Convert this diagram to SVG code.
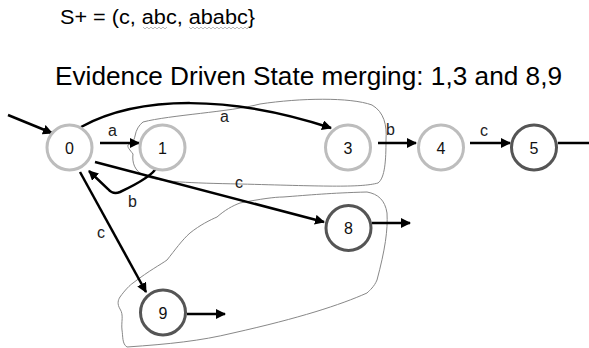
<svg xmlns="http://www.w3.org/2000/svg" width="589" height="348" viewBox="0 0 589 348">
<defs>
<style>
.t{font-family:"Liberation Sans",Arial,sans-serif;fill:#000}
.lbl{font-family:"Liberation Sans",Arial,sans-serif;font-size:16px;fill:#222}
.nl{font-family:"Liberation Sans",Arial,sans-serif;font-size:16px;fill:#111;text-anchor:middle}
.light{fill:#fff;stroke:#bdbdbd;stroke-width:3}
.dark{fill:#fff;stroke:#555;stroke-width:3}
.e{fill:none;stroke:#000;stroke-width:2.5}
.blob{fill:none;stroke:#888;stroke-width:1}
.wave{fill:none;stroke:#aaa;stroke-width:0.8}
</style>
<marker id="ah" viewBox="0 0 10 10" refX="9" refY="5" markerWidth="4" markerHeight="4" orient="auto" markerUnits="strokeWidth">
<path d="M0,0 L10,5 L0,10 z" fill="#000"/>
</marker>
</defs>
<rect width="589" height="348" fill="#fff"/>
<text class="t" x="60" y="23.5" font-size="20" textLength="195" lengthAdjust="spacingAndGlyphs">S+ = (c, abc, ababc}</text>
<path class="wave" d="M143,27 l2,2 l2,-2 l2,2 l2,-2 l2,2 l2,-2 l2,2 l2,-2 l2,2 l2,-2 l2,2 l2,-2"/>
<path class="wave" d="M189,27 l2,2 l2,-2 l2,2 l2,-2 l2,2 l2,-2 l2,2 l2,-2 l2,2 l2,-2 l2,2 l2,-2 l2,2 l2,-2 l2,2 l2,-2 l2,2 l2,-2 l2,2 l2,-2 l2,2 l2,-2 l2,2 l2,-2 l2,2 l2,-2 l2,2 l2,-2 l2,2 l2,-2"/>
<text class="t" x="55" y="85" font-size="26" textLength="507" lengthAdjust="spacingAndGlyphs">Evidence Driven State merging: 1,3 and 8,9</text>

<g id="blobs">
<path class="blob" d="M143,122 C170,115 230,112 260,104 C300,98 350,97 372,105 C384,112 387,125 386,140 C386,160 385,178 378,183 C360,188 320,186 240,184 C190,183 160,182 145,176 C134,171 132,162 133,154 C130,150 127,147 128,145 C132,143 134,141 135,136 C136,130 139,125 143,122 Z"/>
<path class="blob" d="M367,192 C378,194 385,200 387,213 C388,230 385,250 377,280 C374,287 370,290 367,293 C340,305 300,318 233,333 C200,341 170,344 127,347 C122,344 123,336 122,330 C121,322 124,315 120,309 C117,304 118,300 120,297 C125,290 130,285 133,283 C150,270 160,265 167,260 C175,250 182,240 190,233 C200,225 210,220 217,217 C225,210 232,206 240,203 C260,199 275,197 283,197 C310,195 330,193 367,192 Z"/>
</g>

<g id="edges">
<line class="e" x1="8" y1="115" x2="52" y2="133" marker-end="url(#ah)"/>
<line class="e" x1="100" y1="143" x2="139" y2="143" marker-end="url(#ah)"/>
<path class="e" d="M81,127 C140,95 230,95 331,128" marker-end="url(#ah)"/>
<path class="e" d="M157,167 Q152,177 120,192 Q113,195 108,189 L89,171" marker-end="url(#ah)"/>
<line class="e" x1="95" y1="162" x2="324" y2="222" marker-end="url(#ah)"/>
<line class="e" x1="80" y1="172" x2="146" y2="292" marker-end="url(#ah)"/>
<line class="e" x1="378" y1="143" x2="416" y2="143" marker-end="url(#ah)"/>
<line class="e" x1="470" y1="143" x2="510" y2="143" marker-end="url(#ah)"/>
<line class="e" x1="558" y1="143" x2="589" y2="143"/>
<line class="e" x1="372" y1="223" x2="410" y2="223" marker-end="url(#ah)"/>
<line class="e" x1="187" y1="314" x2="225" y2="314" marker-end="url(#ah)"/>
<text class="lbl" x="108" y="136">a</text>
<text class="lbl" x="220" y="122">a</text>
<text class="lbl" x="128" y="207">b</text>
<text class="lbl" x="235" y="188">c</text>
<text class="lbl" x="97" y="238">c</text>
<text class="lbl" x="386" y="135">b</text>
<text class="lbl" x="480" y="136">c</text>
</g>

<g id="n0"><circle class="light" cx="69.5" cy="147.5" r="22.5"/><text class="nl" x="69.5" y="153.5">0</text></g>
<g id="n1"><circle class="light" cx="162.5" cy="147.5" r="22.5"/><text class="nl" x="162.5" y="153.5">1</text></g>
<g id="n3"><circle class="light" cx="348" cy="147.5" r="22.5"/><text class="nl" x="348" y="153.5">3</text></g>
<g id="n4"><circle class="light" cx="441" cy="147.5" r="22.5"/><text class="nl" x="441" y="153.5">4</text></g>
<g id="n5"><circle class="dark" cx="534" cy="147.5" r="22.5"/><text class="nl" x="534" y="153.5">5</text></g>
<g id="n8"><circle class="dark" cx="348.5" cy="228" r="22.5"/><text class="nl" x="348.5" y="234">8</text></g>
<g id="n9"><circle class="dark" cx="163" cy="312.5" r="22.5"/><text class="nl" x="163" y="318.5">9</text></g>
</svg>
